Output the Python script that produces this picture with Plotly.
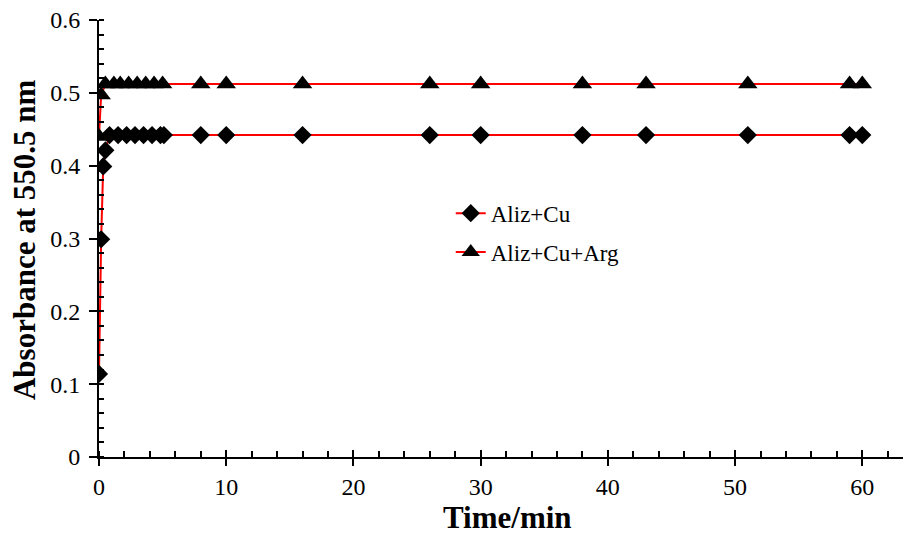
import plotly.graph_objects as go

# Data
time_cu = [0, 0.17, 0.33, 0.5, 0.83, 1.5, 2.17, 2.83, 3.5, 4.17, 4.83, 5.1,
           8, 10, 16, 26, 30, 38, 43, 51, 59, 60]
abs_cu = [0.114, 0.299, 0.399, 0.421, 0.442, 0.442, 0.442, 0.442, 0.442, 0.442, 0.442, 0.442,
          0.442, 0.442, 0.442, 0.442, 0.442, 0.442, 0.442, 0.442, 0.442, 0.442]

time_arg = [0, 0.17, 0.5, 1.17, 1.67, 2.33, 3, 3.67, 4.33, 5.0,
            8, 10, 16, 26, 30, 38, 43, 51, 59, 60]
abs_arg = [0.440, 0.497, 0.512, 0.512, 0.512, 0.512, 0.512, 0.512, 0.512, 0.512,
           0.512, 0.512, 0.512, 0.512, 0.512, 0.512, 0.512, 0.512, 0.512, 0.512]

series_names = ["Aliz+Cu", "Aliz+Cu+Arg"]
x_ticks = [0, 10, 20, 30, 40, 50, 60]
y_ticks = [0, 0.1, 0.2, 0.3, 0.4, 0.5, 0.6]
y_tick_text = ["0", "0.1", "0.2", "0.3", "0.4", "0.5", "0.6"]
x_title = "Time/min"
y_title = "Absorbance at 550.5 nm"

FONT = "Liberation Serif, Times New Roman, serif"

fig = go.Figure()
fig.add_trace(go.Scatter(
    x=time_cu, y=abs_cu, name=series_names[0], mode="lines+markers",
    legendgroup="a",
    line=dict(color="#ff0000", width=2),
    marker=dict(symbol="diamond", size=14, color="black"),
))
fig.add_trace(go.Scatter(
    x=time_arg, y=abs_arg, name=series_names[1], mode="lines+markers",
    legendgroup="b",
    line=dict(color="#ff0000", width=2),
    marker=dict(symbol="triangle-up", size=17, color="black"),
))

fig.update_layout(
    width=905, height=537,
    margin=dict(l=99, r=2, t=20, b=80, autoexpand=False),
    paper_bgcolor="white", plot_bgcolor="white",
    font=dict(family=FONT, color="black", size=24),
    showlegend=True,
    legend=dict(x=0.4375, y=0.607, xanchor="left", yanchor="top",
                font=dict(family=FONT, size=23, color="black"),
                bgcolor="rgba(0,0,0,0)", tracegroupgap=6, traceorder="grouped"),
    xaxis=dict(
        range=[0, 63.2], tickvals=x_ticks, ticktext=[str(v) for v in x_ticks],
        showgrid=False, zeroline=False, automargin=False,
        showline=True, linecolor="black", linewidth=2,
        ticks="outside", ticklen=7, tickwidth=1.5, tickcolor="black",
        minor=dict(dtick=2, tick0=0, ticks="inside", ticklen=6, tickwidth=1.5, tickcolor="black", showgrid=False),
        tickfont=dict(family=FONT, size=24),
    ),
    yaxis=dict(
        range=[0, 0.6], tickvals=y_ticks, ticktext=y_tick_text,
        showgrid=False, zeroline=False, automargin=False,
        showline=True, linecolor="black", linewidth=2,
        ticks="outside", ticklen=8, tickwidth=1.5, tickcolor="black",
        ticklabelstandoff=4,
        minor=dict(dtick=0.02, tick0=0, ticks="inside", ticklen=5, tickwidth=1.5, tickcolor="black", showgrid=False),
        tickfont=dict(family=FONT, size=24),
    ),
    xaxis2=dict(
        overlaying="x", matches="x", range=[0, 63.2], tickvals=x_ticks,
        showticklabels=False, showgrid=False, zeroline=False, showline=False,
        ticks="inside", ticklen=7, tickwidth=1.5, tickcolor="black", side="bottom",
    ),
    annotations=[
        dict(text="<b>" + x_title + "</b>", xref="paper", yref="paper",
             x=0.5087, y=-0.181, xanchor="center", yanchor="bottom", borderpad=0,
             showarrow=False, font=dict(family=FONT, size=31, color="black")),
        dict(text="<b>" + y_title + "</b>", xref="paper", yref="paper",
             x=-0.092, y=0.4966, xanchor="center", yanchor="middle", textangle=-90,
             showarrow=False, font=dict(family=FONT, size=31, color="black")),
    ],
)

# invisible trace on xaxis2 so the overlay axis with inside major ticks is drawn
fig.add_trace(go.Scatter(x=[0], y=[0], xaxis="x2", mode="markers",
                         marker=dict(opacity=0), showlegend=False, hoverinfo="skip"))

fig.write_html("out.html")
